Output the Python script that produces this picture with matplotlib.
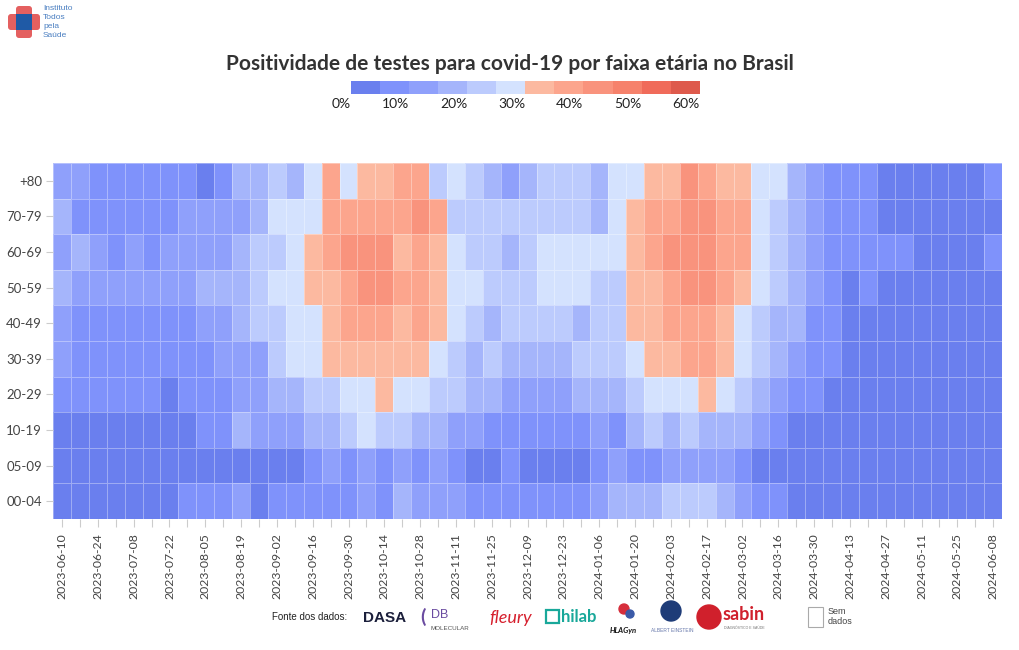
import matplotlib
matplotlib.use("Agg")
import matplotlib.pyplot as plt
import numpy as np
import pandas as pd
from matplotlib.colors import ListedColormap, BoundaryNorm
from matplotlib.patches import Rectangle, Circle, FancyBboxPatch

# semanas epidemiologicas (inicio)
weeks = pd.date_range("2023-06-10", periods=53, freq="7D").strftime("%Y-%m-%d").tolist()

age_groups = ["+80", "70-79", "60-69", "50-59", "40-49",
              "30-39", "20-29", "10-19", "05-09", "00-04"]

# positividade estimada (%) por faixa etaria
pos_80 = [12, 12, 8, 8, 8, 8, 8, 8, 3, 8, 17, 17, 22, 17,
          27, 37, 27, 32, 32, 37, 37, 22, 27, 22, 17, 12, 17, 22,
          22, 22, 17, 27, 27, 32, 32, 42, 37, 32, 32, 27, 27, 17,
          12, 8, 8, 8, 3, 3, 3, 3, 3, 3, 8]
pos_70 = [17, 8, 8, 8, 8, 8, 8, 12, 12, 12, 12, 17, 27, 27,
          27, 37, 37, 37, 37, 37, 42, 37, 22, 22, 22, 22, 22, 22,
          22, 22, 17, 27, 32, 37, 37, 42, 42, 37, 37, 27, 22, 17,
          12, 8, 8, 8, 3, 3, 3, 3, 3, 3, 3]
pos_60 = [12, 17, 12, 8, 12, 8, 12, 12, 12, 12, 17, 22, 22, 27,
          32, 37, 42, 42, 42, 32, 37, 32, 27, 22, 22, 17, 22, 27,
          27, 27, 27, 27, 32, 37, 42, 42, 42, 37, 37, 27, 22, 17,
          12, 8, 8, 8, 8, 8, 3, 3, 3, 3, 8]
pos_50 = [17, 12, 12, 12, 12, 12, 12, 12, 17, 17, 17, 22, 27, 27,
          32, 32, 37, 42, 42, 37, 37, 32, 27, 27, 22, 22, 22, 27,
          27, 27, 22, 22, 32, 32, 37, 42, 42, 37, 32, 27, 22, 17,
          12, 8, 3, 8, 3, 3, 3, 3, 3, 3, 3]
pos_40 = [12, 8, 8, 8, 8, 8, 8, 8, 12, 12, 17, 22, 22, 27,
          27, 32, 37, 37, 37, 32, 37, 32, 27, 22, 17, 22, 22, 22,
          22, 17, 22, 22, 32, 32, 37, 37, 37, 32, 27, 22, 17, 17,
          8, 8, 3, 3, 3, 3, 3, 3, 3, 3, 3]
pos_30 = [12, 8, 8, 8, 8, 8, 8, 8, 8, 12, 12, 12, 22, 27,
          27, 32, 32, 32, 32, 32, 32, 27, 22, 17, 22, 17, 17, 17,
          17, 22, 22, 22, 27, 32, 32, 37, 37, 32, 27, 22, 17, 12,
          8, 8, 3, 3, 3, 3, 3, 3, 3, 3, 3]
pos_20 = [8, 8, 8, 8, 8, 8, 3, 8, 8, 8, 12, 12, 17, 17,
          22, 22, 27, 27, 32, 27, 27, 22, 22, 17, 17, 12, 12, 12,
          12, 17, 17, 17, 22, 27, 27, 27, 32, 27, 22, 17, 12, 8,
          8, 3, 3, 3, 3, 3, 3, 3, 3, 3, 3]
pos_10 = [3, 3, 3, 3, 3, 3, 3, 3, 8, 8, 17, 12, 12, 12,
          17, 17, 22, 27, 22, 22, 17, 17, 12, 12, 8, 8, 8, 8,
          8, 8, 12, 8, 17, 22, 17, 22, 17, 17, 17, 12, 8, 3,
          3, 3, 3, 3, 3, 3, 3, 3, 3, 3, 3]
pos_05 = [3, 3, 3, 3, 3, 3, 3, 3, 3, 3, 3, 3, 3, 3,
          8, 12, 8, 12, 8, 12, 8, 12, 8, 3, 3, 8, 3, 3,
          3, 3, 8, 12, 8, 8, 12, 12, 12, 12, 8, 3, 3, 3,
          3, 3, 3, 3, 3, 3, 3, 3, 3, 3, 3]
pos_00 = [3, 3, 3, 3, 3, 3, 3, 8, 8, 8, 12, 3, 8, 8,
          8, 8, 8, 12, 8, 17, 12, 12, 12, 8, 8, 8, 8, 8,
          8, 8, 12, 17, 17, 17, 22, 22, 22, 17, 12, 8, 8, 3,
          3, 3, 3, 3, 3, 3, 3, 3, 3, 3, 3]

bins = list(range(0, 65, 5))
bin_colors = ["#6a7fee", "#7f92fb", "#8fa0fb", "#a5b5fb", "#bccbfd", "#d4e2fe",
              "#fcb9a0", "#fca58d", "#f9937d", "#f6826c", "#f06b5a", "#de5a4c"]
cbar_labels = ["0%", "10%", "20%", "30%", "40%", "50%", "60%"]

cmap = ListedColormap(bin_colors)
norm = BoundaryNorm(bins, cmap.N)

plt.rcParams["font.family"] = ["Lato", "DejaVu Sans"]

fig = plt.figure(figsize=(10.2, 6.5), dpi=100)

# heatmap
ax = fig.add_axes([0.052, 0.2015, 0.9305, 0.5477])
matrix = np.array([pos_80, pos_70, pos_60, pos_50, pos_40,
                   pos_30, pos_20, pos_10, pos_05, pos_00])
ax.pcolormesh(np.arange(len(weeks) + 1), np.arange(len(age_groups) + 1), matrix,
              cmap=cmap, norm=norm, edgecolors=(1, 1, 1, 0.35), linewidth=0.6)
ax.set_xlim(0, len(weeks))
ax.set_ylim(len(age_groups), 0)
ax.set_yticks(np.arange(len(age_groups)) + 0.5)
ax.set_yticklabels(age_groups, fontsize=9.5, color="#444444")
ax.set_xticks(np.arange(0, len(weeks), 2) + 0.5)
ax.set_xticklabels(weeks[::2], rotation=90, fontsize=8.8, color="#444444")
ax.set_xticks(np.arange(len(weeks)) + 0.5, minor=True)
ax.tick_params(axis="both", which="both", color="#cccccc", width=0.8)
ax.tick_params(axis="x", which="both", length=6, pad=4)
ax.tick_params(axis="y", which="both", length=5, pad=3)
for s in ax.spines.values():
    s.set_visible(False)

# legenda de cores
cax = fig.add_axes([0.344, 0.8555, 0.342, 0.02])
cax.pcolormesh(bins, [0, 1], np.array([[b + 2.5 for b in bins[:-1]]]), cmap=cmap, norm=norm)
cax.set_xlim(0, 60)
cax.set_ylim(0, 1)
cax.set_yticks([])
cax.set_xticks(range(0, 70, 10))
cax.set_xticklabels(cbar_labels, fontsize=10, color="#222222", ha="right")
cax.tick_params(axis="x", length=0, pad=3)
for s in cax.spines.values():
    s.set_visible(False)

# camada de anotacoes em pixels
over = fig.add_axes([0, 0, 1, 1], zorder=-1)
over.set_xlim(0, 1020)
over.set_ylim(650, 0)
over.axis("off")

fig.text(0.5, 0.902, "Positividade de testes para covid-19 por faixa etária no Brasil",
         ha="center", va="center", fontsize=15, fontweight="bold", color="#333333")

# logo ITpS
over.add_patch(FancyBboxPatch((8, 14), 32, 16, boxstyle="round,pad=0,rounding_size=3",
                              color="#e46060", lw=0))
over.add_patch(FancyBboxPatch((16, 6), 16, 32, boxstyle="round,pad=0,rounding_size=3",
                              color="#e46060", lw=0))
over.add_patch(Rectangle((16, 14), 16, 16, color="#1f5aa6", lw=0))
for i, w in enumerate(["Instituto", "Todos", "pela", "Saúde"]):
    over.text(43, 9 + i * 8.7, w, fontsize=6, color="#4a7fc1", va="center",
              family=["Liberation Sans"])

# fontes dos dados
over.text(272, 617, "Fonte dos dados:", fontsize=7, color="#222222", va="center",
          family=["Liberation Sans"])
over.text(363, 618, "DASA", fontsize=11, color="#1b1f3b", va="center", fontweight="bold",
          family=["Liberation Sans"])
over.text(420, 617, "(", fontsize=14, color="#6a4ba0", va="center", fontweight="bold")
over.text(431, 615, "DB", fontsize=9, color="#6a4ba0", va="center", family=["Liberation Sans"])
over.text(431, 629, "MOLECULAR", fontsize=4.5, color="#555555", va="center",
          family=["Liberation Sans"])
over.text(489, 618, "fleury", fontsize=13, color="#d6202e", va="center", style="italic")
over.add_patch(Rectangle((546, 610), 13, 13, facecolor="none", edgecolor="#19a89a", lw=1.6))
over.text(561, 617, "hilab", fontsize=12, color="#19a89a", va="center", fontweight="bold")
over.add_patch(Circle((624, 609), 5, color="#d62e3c"))
over.add_patch(Circle((630, 614), 4, color="#3b5aa8"))
over.text(610, 630, "HLAGyn", fontsize=5.5, color="#111111", va="center", fontweight="bold",
          style="italic")
over.add_patch(Circle((671, 611), 10, color="#1e3c78"))
over.text(651, 630, "ALBERT EINSTEIN", fontsize=3.5, color="#6677aa", va="center",
          family=["Liberation Sans"])
over.add_patch(Circle((709, 617), 12, color="#d0202c"))
over.text(723, 615, "sabin", fontsize=13, color="#d0202c", va="center", fontweight="bold")
over.text(724, 628, "DIAGNÓSTICO E SAÚDE", fontsize=2.5, color="#777777", va="center",
          family=["Liberation Sans"])

over.add_patch(Rectangle((808, 607), 15, 20, facecolor="white", edgecolor="#aaaaaa", lw=0.8))
over.text(828, 611, "Sem", fontsize=6.5, color="#444444", va="center", family=["Liberation Sans"])
over.text(828, 622, "dados", fontsize=6.5, color="#444444", va="center",
          family=["Liberation Sans"])

fig.savefig("out.png", dpi=100)
